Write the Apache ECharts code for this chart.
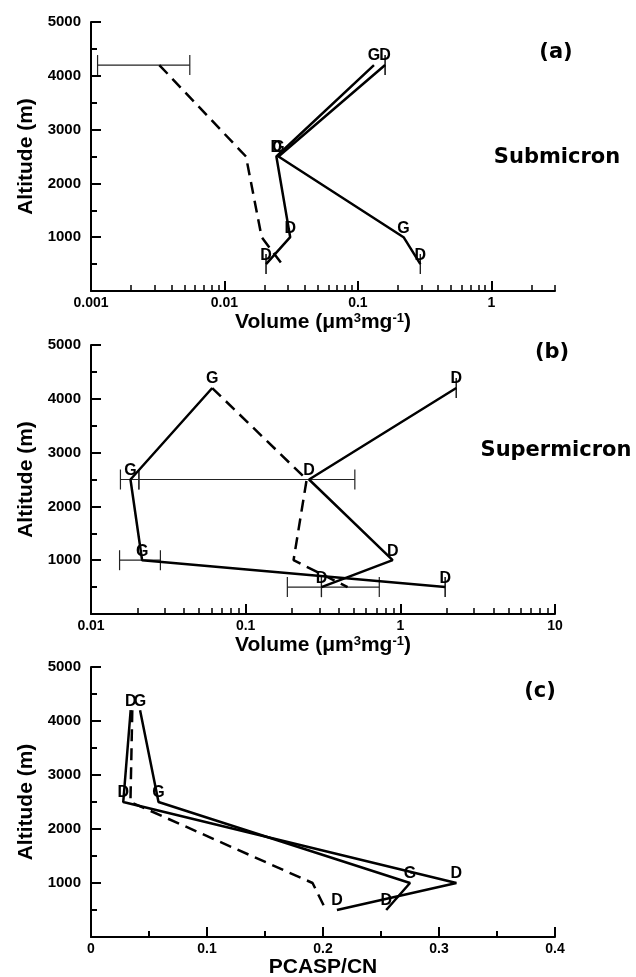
<!DOCTYPE html>
<html><head><meta charset="utf-8">
<script src="https://cdn.jsdelivr.net/npm/echarts@6/dist/echarts.min.js"></script>
<style>html,body{margin:0;padding:0;background:#fff}#c{width:636px;height:977px}</style>
</head><body><div id="c"></div>
<script>
// ---- shared ----
const altitudes = [4200, 2500, 1000, 500];
const altitudeTicks = [0, 1000, 2000, 3000, 4000, 5000];

// ---- panel (a): submicron volume (um3 mg-1) ----
const subLineA = [0.132, 0.0245, 0.0311, 0.0205];
const subLineALabels = ['G', 'D', 'D', 'D'];
const subLineB = [0.160, 0.0254, 0.22, 0.294];
const subLineBLabels = ['D', 'G', 'G', 'D'];
const subMean = [0.00325, 0.0145, 0.019, 0.027];
const subErrLow = [0.00112, 0.16, 0.0205, 0.294];
const subErrHigh = [0.0055, 0.16, 0.0205, 0.294];
const subErrAlt = [4200, 4200, 500, 500];
const subMajorTicks = [0.001, 0.01, 0.1, 1];
const subMinorTicks = [0.002, 0.003, 0.004, 0.005, 0.006, 0.007, 0.008, 0.009,
  0.02, 0.03, 0.04, 0.05, 0.06, 0.07, 0.08, 0.09,
  0.2, 0.3, 0.4, 0.5, 0.6, 0.7, 0.8, 0.9, 2, 3];

// ---- panel (b): supermicron volume ----
const supLineG = [0.0608, 0.018, 0.0214, 1.95];
const supLineGLabels = ['G', 'G', 'G', 'D'];
const supLineD = [2.30, 0.257, 0.892, 0.309];
const supLineDLabels = ['D', 'D', 'D', 'D'];
const supMean = [0.0608, 0.248, 0.204, 0.456];
const supErrLow = [0.0155, 0.0204, 0.0153, 0.186, 2.30, 1.95, 0.309];
const supErrHigh = [0.508, 0.0204, 0.0281, 0.731, 2.30, 1.95, 0.309];
const supErrAlt = [2500, 2500, 1000, 500, 4200, 500, 500];
const supMajorTicks = [0.01, 0.1, 1, 10];
const supMinorTicks = [0.02, 0.03, 0.04, 0.05, 0.06, 0.07, 0.08, 0.09,
  0.2, 0.3, 0.4, 0.5, 0.6, 0.7, 0.8, 0.9,
  2, 3, 4, 5, 6, 7, 8, 9];

// ---- panel (c): PCASP/CN ----
const ratioLineD = [0.0342, 0.0278, 0.315, 0.212];
const ratioLineDLabels = ['D', 'D', 'D', 'D'];
const ratioLineG = [0.0423, 0.0582, 0.275, 0.2545];
const ratioLineGLabels = ['G', 'G', 'G', 'D'];
const ratioMean = [0.0356, 0.034, 0.191, 0.2025];
const ratioTicks = [0, 0.1, 0.2, 0.3, 0.4];

// ---------------------------------------------------------
const FONT = 'Liberation Sans';
const BLACK = '#000';
const pairs = xs => xs.map((x, i) => [x, altitudes[i]]);
const errData = (lo, hi, alt) => lo.map((l, i) => [l, hi[i], alt[i]]);
const logFmt = v => { const e = Math.round(Math.log10(v)); return e < 0 ? v.toFixed(-e) : String(Math.round(v)); };

const grids = [
  { left: 91, top: 22, width: 464, height: 269 },
  { left: 91, top: 345, width: 464, height: 269 },
  { left: 91, top: 667, width: 464, height: 270 }
];
grids.forEach(g => { g.outerBoundsMode = 'none'; g.containLabel = false; });

const volumeName = 'Volume (μm{s|3}mg{s|-1})';
const nameStyle = { fontFamily: FONT, fontWeight: 'bold', fontSize: 21, color: BLACK,
  rich: { s: { fontFamily: FONT, fontWeight: 'bold', fontSize: 13, color: BLACK, verticalAlign: 'top' } } };
const tickLabelStyle = { color: BLACK, fontFamily: FONT, fontWeight: 'bold', fontSize: 14 };

function yAxisFor(g) {
  return {
    type: 'value', gridIndex: g, min: altitudeTicks[0], max: altitudeTicks[altitudeTicks.length - 1], interval: 1000,
    name: 'Altitude (m)', nameLocation: 'middle', nameGap: 54,
    nameTextStyle: { fontFamily: FONT, fontWeight: 'bold', fontSize: 21, color: BLACK },
    axisLine: { show: true, lineStyle: { color: BLACK, width: 2 } },
    axisTick: { show: true, inside: true, length: 10, lineStyle: { color: BLACK, width: 2 } },
    minorTick: { show: true, splitNumber: 2, length: 6, lineStyle: { color: BLACK, width: 2 } },
    axisLabel: { color: BLACK, fontFamily: FONT, fontWeight: 'bold', fontSize: 15, margin: 10,
      formatter: v => (v === 0 ? '' : String(v)) },
    splitLine: { show: false }, minorSplitLine: { show: false }
  };
}
function logAxisMain(g, min, max, majors, name, gap) {
  return {
    type: 'log', logBase: 10, gridIndex: g, min: min, max: max, position: 'bottom',
    name: name, nameLocation: 'middle', nameGap: gap, nameTextStyle: nameStyle,
    axisLine: { show: true, lineStyle: { color: BLACK, width: 2 } },
    axisTick: { show: true, inside: true, length: 10, customValues: majors, lineStyle: { color: BLACK, width: 2 } },
    axisLabel: Object.assign({ margin: 5, customValues: majors, formatter: logFmt }, tickLabelStyle),
    splitLine: { show: false }, minorTick: { show: false }
  };
}
function logAxisMinor(g, min, max, minors) {
  return {
    type: 'log', logBase: 10, gridIndex: g, min: min, max: max, position: 'bottom', offset: 0,
    axisLine: { show: false },
    axisTick: { show: true, inside: true, length: 6, customValues: minors, lineStyle: { color: BLACK, width: 1.5 } },
    axisLabel: { show: false }, splitLine: { show: false }
  };
}

function solid(xi, yi, xs, labels) {
  return {
    type: 'line', xAxisIndex: xi, yAxisIndex: yi, data: pairs(xs),
    symbol: 'circle', symbolSize: 0, showSymbol: true, silent: true, z: 4,
    lineStyle: { color: BLACK, width: 2.5 }, itemStyle: { color: BLACK },
    label: { show: true, position: 'top', distance: 1, formatter: p => labels[p.dataIndex],
      fontFamily: FONT, fontWeight: 'bold', fontSize: 16, color: BLACK }
  };
}
function dashed(xi, yi, xs) {
  return {
    type: 'line', xAxisIndex: xi, yAxisIndex: yi, data: pairs(xs), symbol: 'none', silent: true, z: 3,
    lineStyle: { color: BLACK, width: 2.5, type: [12, 7] }
  };
}
function errBars(xi, yi, data) {
  return {
    type: 'custom', xAxisIndex: xi, yAxisIndex: yi, data: data, silent: true, z: 2,
    encode: { x: [0, 1], y: 2 },
    renderItem: (params, api) => {
      const lo = api.coord([api.value(0), api.value(2)]);
      const hi = api.coord([api.value(1), api.value(2)]);
      const st = { stroke: '#222', lineWidth: 1.2 };
      const h = 10;
      return { type: 'group', children: [
        { type: 'line', shape: { x1: lo[0], y1: lo[1], x2: hi[0], y2: hi[1] }, style: st },
        { type: 'line', shape: { x1: lo[0], y1: lo[1] - h, x2: lo[0], y2: lo[1] + h }, style: st },
        { type: 'line', shape: { x1: hi[0], y1: hi[1] - h, x2: hi[0], y2: hi[1] + h }, style: st }
      ] };
    }
  };
}

const option = {
  animation: false,
  backgroundColor: '#fff',
  textStyle: { fontFamily: FONT },
  grid: grids,
  xAxis: [
    logAxisMain(0, 0.001, 3, subMajorTicks, volumeName, 21),
    logAxisMain(1, 0.01, 10, supMajorTicks, volumeName, 21),
    {
      type: 'value', gridIndex: 2, min: ratioTicks[0], max: ratioTicks[ratioTicks.length - 1], interval: 0.1, position: 'bottom',
      name: 'PCASP/CN', nameLocation: 'middle', nameGap: 19, nameTextStyle: nameStyle,
      axisLine: { show: true, lineStyle: { color: BLACK, width: 2 } },
      axisTick: { show: true, inside: true, length: 10, lineStyle: { color: BLACK, width: 2 } },
      minorTick: { show: true, splitNumber: 2, length: 6, lineStyle: { color: BLACK, width: 2 } },
      axisLabel: Object.assign({ margin: 5, formatter: v => (v === 0 ? '0' : v.toFixed(1)) }, tickLabelStyle),
      splitLine: { show: false }, minorSplitLine: { show: false }
    },
    logAxisMinor(0, 0.001, 3, subMinorTicks),
    logAxisMinor(1, 0.01, 10, supMinorTicks)
  ],
  yAxis: [yAxisFor(0), yAxisFor(1), yAxisFor(2)],
  series: [
    errBars(0, 0, errData(subErrLow, subErrHigh, subErrAlt)),
    dashed(0, 0, subMean),
    solid(0, 0, subLineA, subLineALabels),
    solid(0, 0, subLineB, subLineBLabels),

    errBars(1, 1, errData(supErrLow, supErrHigh, supErrAlt)),
    dashed(1, 1, supMean),
    solid(1, 1, supLineG, supLineGLabels),
    solid(1, 1, supLineD, supLineDLabels),

    dashed(2, 2, ratioMean),
    solid(2, 2, ratioLineD, ratioLineDLabels),
    solid(2, 2, ratioLineG, ratioLineGLabels)
  ],
  graphic: [
    { type: 'text', x: 556, y: 53, style: { text: '(a)', font: 'bold 21px "DejaVu Sans"', fill: BLACK, align: 'center', verticalAlign: 'middle' } },
    { type: 'text', x: 557, y: 158, style: { text: 'Submicron', font: 'bold 21px "DejaVu Sans"', fill: BLACK, align: 'center', verticalAlign: 'middle' } },
    { type: 'text', x: 552, y: 353, style: { text: '(b)', font: 'bold 21px "DejaVu Sans"', fill: BLACK, align: 'center', verticalAlign: 'middle' } },
    { type: 'text', x: 556, y: 451, style: { text: 'Supermicron', font: 'bold 21px "DejaVu Sans"', fill: BLACK, align: 'center', verticalAlign: 'middle' } },
    { type: 'text', x: 540, y: 692, style: { text: '(c)', font: 'bold 21px "DejaVu Sans"', fill: BLACK, align: 'center', verticalAlign: 'middle' } }
  ]
};

const chart = echarts.init(document.getElementById('c'), null, { renderer: 'canvas' });
chart.setOption(option);
</script>
</body></html>
